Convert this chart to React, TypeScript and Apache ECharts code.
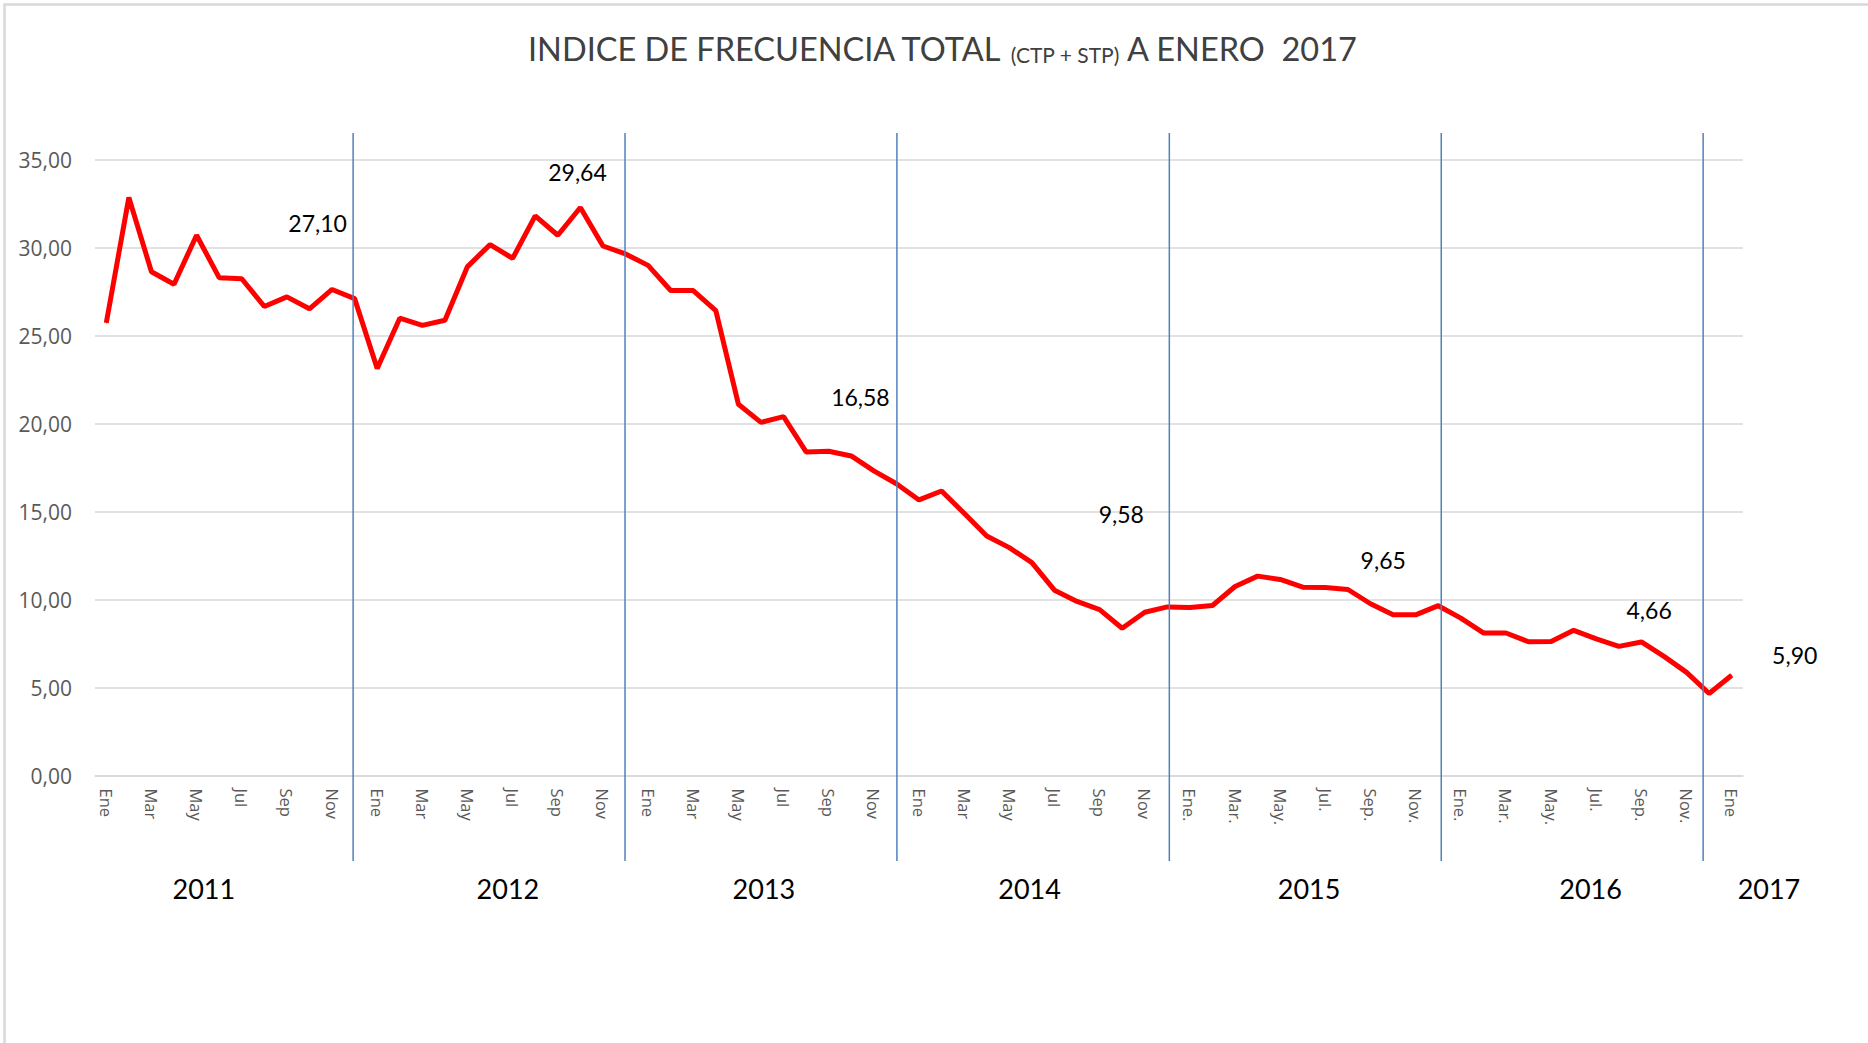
import React, { useEffect, useRef } from "react";
import * as echarts from "echarts";

// ---------- data ----------
const MONTHS = ["Ene", "Feb", "Mar", "Abr", "May", "Jun", "Jul", "Ago", "Sep", "Oct", "Nov", "Dic"];
const YEARS = [2011, 2012, 2013, 2014, 2015, 2016, 2017];
const DOTTED_YEARS = [2015, 2016];

const V2011 = [25.72, 32.85, 28.63, 27.92, 30.7, 28.29, 28.23, 26.65, 27.2, 26.52, 27.62, 27.1];
const V2012 = [23.13, 25.99, 25.58, 25.87, 28.92, 30.17, 29.39, 31.8, 30.7, 32.28, 30.09, 29.64];
const V2013 = [28.99, 27.56, 27.56, 26.42, 21.1, 20.07, 20.39, 18.39, 18.43, 18.16, 17.31, 16.58];
const V2014 = [15.66, 16.17, 14.9, 13.61, 12.95, 12.1, 10.53, 9.89, 9.43, 8.37, 9.28, 9.58];
const V2015 = [9.55, 9.66, 10.74, 11.33, 11.14, 10.7, 10.68, 10.57, 9.76, 9.13, 9.13, 9.65];
const V2016 = [8.94, 8.1, 8.1, 7.6, 7.62, 8.25, 7.76, 7.34, 7.59, 6.77, 5.86, 4.66];
const V2017 = [5.7];

const VALUES = [...V2011, ...V2012, ...V2013, ...V2014, ...V2015, ...V2016, ...V2017];

const CATEGORIES = VALUES.map((_, i) => {
  const y = YEARS[0] + Math.floor(i / 12);
  const m = MONTHS[i % 12];
  return `${m}${DOTTED_YEARS.includes(y) ? "." : ""} ${y}`;
});

// annotated points (index into VALUES) and their texts
const NOTE_INDEX = [11, 23, 35, 47, 59, 71, 72];
const NOTE_TEXT = ["27,10", "29,64", "16,58", "9,58", "9,65", "4,66", "5,90"];

// year separators (at December of each year) and year captions
const YEAR_LINE_INDEX = [11, 23, 35, 47, 59, 71];
const YEAR_LABELS = ["2011", "2012", "2013", "2014", "2015", "2016", "2017"];

// ---------- layout (not data) ----------
const NOTE_OFFSET: [number, number][] = [
  [-37, -76],
  [-48, -82],
  [-36, -87],
  [-46, -93],
  [-55, -46],
  [-60, -83],
  [63, -20],
];
const YEAR_LINE_SHIFT = [-1.5, -0.5, 0.5, 2, 3, -6];
const YEAR_LABEL_AT = [4.32, 17.79, 29.13, 40.9, 53.28, 65.75, 73.65];

const TITLE = "{a|INDICE DE FRECUENCIA TOTAL }{b|(CTP + STP)}{a| A ENERO  2017}";

export default function App() {
  const ref = useRef<HTMLDivElement>(null);

  useEffect(() => {
    if (!ref.current) return;
    const chart = echarts.init(ref.current, null, { renderer: "svg" });

    const seriesData = VALUES.map((v, i) => {
      const k = NOTE_INDEX.indexOf(i);
      if (k < 0) return v;
      return {
        value: v,
        label: {
          show: true,
          position: "inside",
          formatter: NOTE_TEXT[k],
          offset: NOTE_OFFSET[k],
        },
      };
    });

    const option: any = {
      animation: false,
      backgroundColor: "#ffffff",
      title: {
        text: TITLE,
        left: 528,
        top: 23,
        padding: 0,
        textStyle: {
          fontWeight: "normal",
          rich: {
            a: {
              fontFamily: "Lato",
              fontSize: 32.5,
              fontWeight: "normal",
              color: "#404040",
              lineHeight: 42,
              verticalAlign: "bottom",
            },
            b: {
              fontFamily: "Lato",
              fontSize: 21,
              fontWeight: "normal",
              color: "#404040",
              lineHeight: 34,
              verticalAlign: "bottom",
            },
          },
        },
      },
      grid: { left: 95, right: 125, top: 159.6, bottom: 267.5, containLabel: false },
      xAxis: {
        type: "category",
        data: CATEGORIES,
        boundaryGap: true,
        axisLine: { show: true, lineStyle: { color: "#d9d9d9", width: 1.5 } },
        axisTick: { show: false },
        splitLine: { show: false },
        axisLabel: {
          interval: 1,
          rotate: -90,
          margin: 13,
          fontFamily: "Open Sans",
          fontSize: 16.5,
          color: "#595959",
          formatter: (v: string) => v.split(" ")[0],
        },
      },
      yAxis: {
        type: "value",
        min: 0,
        max: 35,
        interval: 5,
        axisLine: { show: false },
        axisTick: { show: false },
        splitLine: { lineStyle: { color: "#d9d9d9", width: 1.5 } },
        axisLabel: {
          margin: 23,
          fontFamily: "Open Sans",
          fontSize: 21,
          color: "#595959",
          formatter: (v: number) => v.toFixed(2).replace(".", ","),
        },
      },
      series: [
        {
          type: "line",
          data: seriesData,
          showSymbol: true,
          symbol: "circle",
          symbolSize: 1,
          itemStyle: { color: "#ff0000" },
          lineStyle: { color: "#ff0000", width: 5 },
          label: {
            show: false,
            fontFamily: "Lato",
            fontSize: 23,
            color: "#000000",
          },
          emphasis: { disabled: true },
          z: 3,
        },
      ],
    };

    chart.setOption(option);

    const x0 = chart.convertToPixel({ xAxisIndex: 0 }, 0) as number;
    const x1 = chart.convertToPixel({ xAxisIndex: 0 }, 1) as number;
    const band = x1 - x0;

    const graphics: any[] = [
      {
        type: "rect",
        silent: true,
        z: 0,
        shape: { x: 4.5, y: 4.5, width: 1920, height: 1100 },
        style: { fill: "none", stroke: "#d9d9d9", lineWidth: 2.5 },
      },
    ];
    YEAR_LINE_INDEX.forEach((idx, k) => {
      const x = (chart.convertToPixel({ xAxisIndex: 0 }, idx) as number) + YEAR_LINE_SHIFT[k];
      graphics.push({
        type: "line",
        silent: true,
        z: 100,
        shape: { x1: x, y1: 133, x2: x, y2: 861 },
        style: { stroke: "#4f81bd", lineWidth: 1.5 },
      });
    });
    YEAR_LABELS.forEach((t, k) => {
      graphics.push({
        type: "text",
        silent: true,
        z: 100,
        style: {
          text: t,
          x: x0 + YEAR_LABEL_AT[k] * band,
          y: 888,
          align: "center",
          verticalAlign: "middle",
          fontFamily: "Lato",
          fontSize: 27,
          fill: "#000000",
        },
      });
    });
    chart.setOption({ graphic: graphics });

    return () => chart.dispose();
  }, []);

  return (
    <div
      ref={ref}
      style={{ position: "fixed", left: 0, top: 0, width: 1868, height: 1043, background: "#fff" }}
    />
  );
}
